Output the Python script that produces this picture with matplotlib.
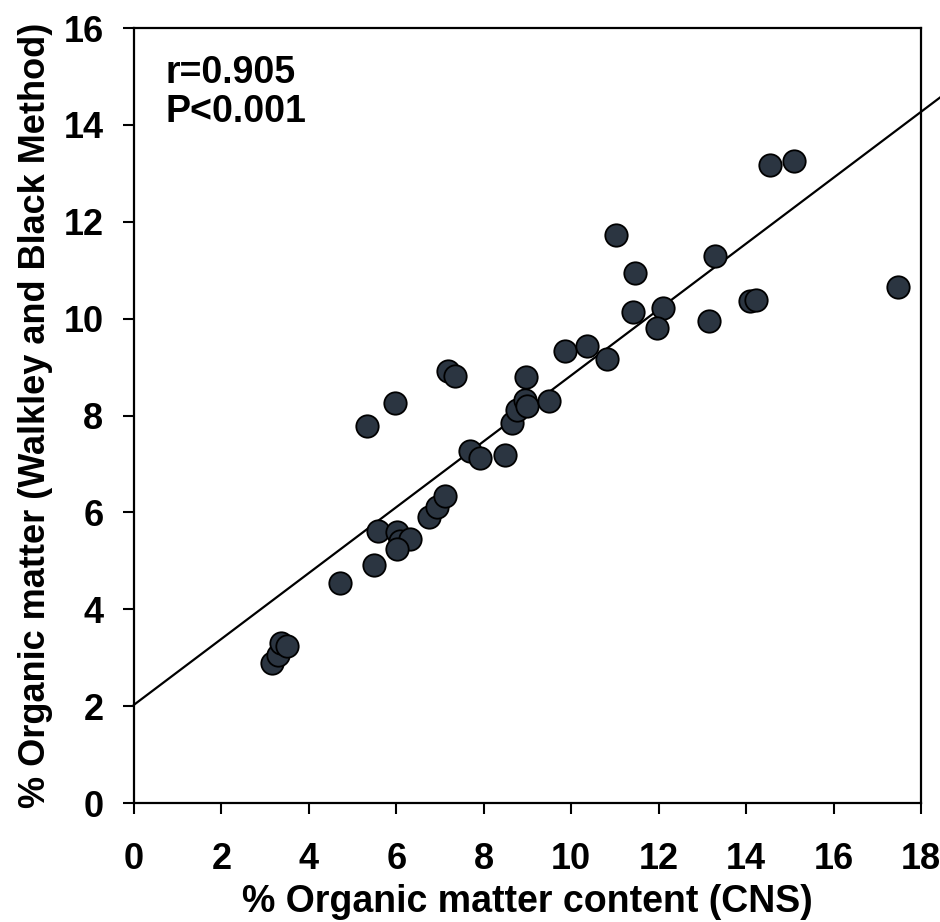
import matplotlib.pyplot as plt
import numpy as np

#------------------DATA------------------#

cns = [3.15, 3.30, 3.35, 3.50, 4.71, 5.49, 5.59, 6.01, 6.09, 6.32, 6.01,
       6.74, 6.93, 7.12, 5.32, 5.98, 7.19, 7.35, 7.69, 7.92, 8.49, 8.64,
       8.76, 8.95, 8.99, 8.97, 9.50, 9.86, 10.36, 10.82, 11.03, 11.45,
       11.41, 12.11, 11.96, 13.14, 13.29, 14.08, 14.22, 14.54, 15.10, 17.47]
walkley = [2.90, 3.05, 3.30, 3.25, 4.55, 4.92, 5.62, 5.60, 5.40, 5.45, 5.25,
           5.91, 6.12, 6.33, 7.78, 8.26, 8.91, 8.81, 7.26, 7.12, 7.19, 7.84,
           8.12, 8.33, 8.19, 8.79, 8.29, 9.34, 9.44, 9.16, 11.72, 10.94,
           10.13, 10.22, 9.80, 9.96, 11.30, 10.36, 10.38, 13.18, 13.25, 10.65]

intercept = 2.03
slope = 0.68

xticks = [0, 2, 4, 6, 8, 10, 12, 14, 16, 18]
yticks = [0, 2, 4, 6, 8, 10, 12, 14, 16]

#----------------------------------------#

plt.rcParams['font.family'] = ['Liberation Sans', 'DejaVu Sans']
plt.rcParams['font.weight'] = 'bold'

fig = plt.figure(figsize=(9.4, 9.22), dpi=100)
ax = fig.add_axes([0.1426, 0.129, 0.8372, 0.8406])

ax.scatter(cns, walkley, s=260, c="#2b3541", edgecolors="black",
           linewidths=1.3, zorder=3)

xl = np.array([0, 18.45])
ax.plot(xl, intercept + slope*xl, color="black", lw=1.6, clip_on=False, zorder=2)

ax.set_xlim(0, 18)
ax.set_ylim(0, 16)
ax.set_xticks(xticks)
ax.set_yticks(yticks)
ax.tick_params(direction="out", length=8, width=1.5, labelsize=26)
ax.tick_params(axis="x", pad=20)
ax.tick_params(axis="y", pad=14)
for lab in ax.get_xticklabels() + ax.get_yticklabels():
    lab.set_fontweight("bold")
for sp in ax.spines.values():
    sp.set_linewidth(1.6)

ax.set_xlabel("% Organic matter content (CNS)", fontsize=27, fontweight="bold")
ax.set_ylabel("% Organic matter (Walkley and Black Method)", fontsize=26, fontweight="bold")
ax.xaxis.set_label_coords(0.5, -0.104)
ax.yaxis.set_label_coords(-0.103, 0.5)

ax.text(0.04, 0.965, "r=0.905\nP<0.001", transform=ax.transAxes, fontsize=27,
        fontweight="bold", va="top", ha="left", linespacing=1.1)

fig.savefig("out.png", dpi=100)
